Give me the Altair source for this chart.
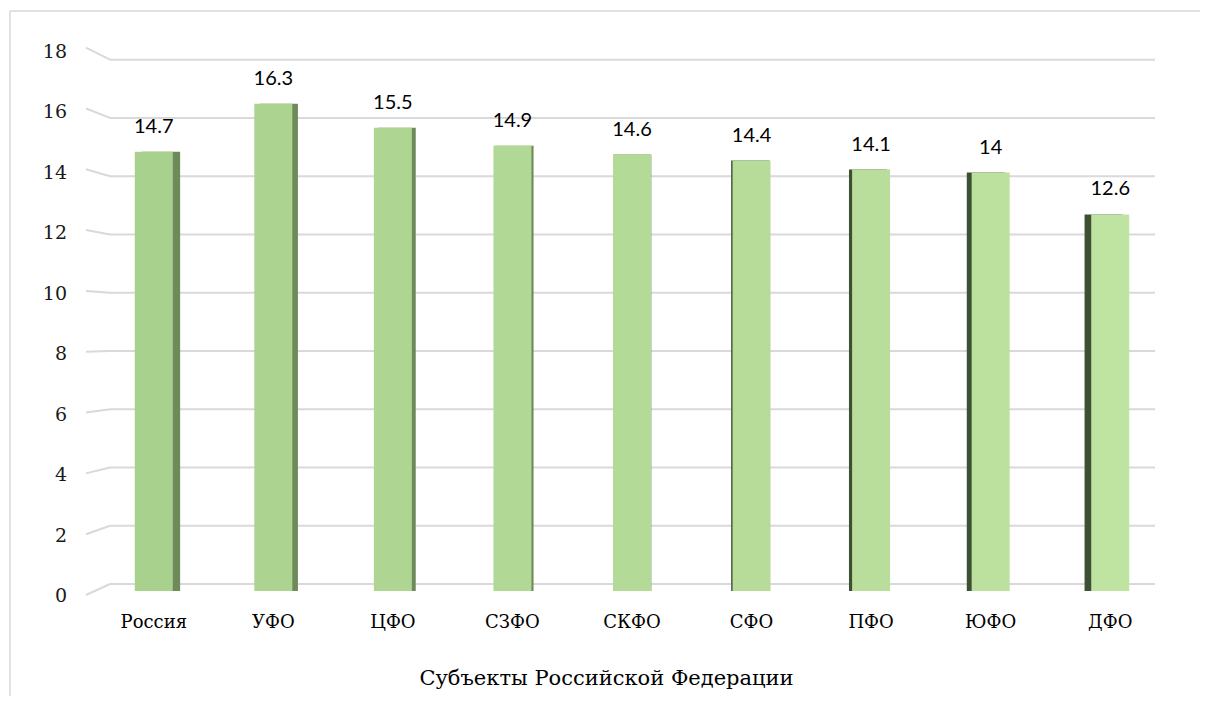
import altair as alt
import pandas as pd

regions = ["Россия", "УФО", "ЦФО", "СЗФО", "СКФО", "СФО", "ПФО", "ЮФО", "ДФО"]
values = [14.7, 16.3, 15.5, 14.9, 14.6, 14.4, 14.1, 14, 12.6]
y_ticks = [0, 2, 4, 6, 8, 10, 12, 14, 16, 18]
x_title = "Субъекты Российской Федерации"

bars_df = pd.DataFrame({"region": regions, "value": values})
ticks_df = pd.DataFrame({"v": y_ticks})
one_df = pd.DataFrame({"k": [0]})

W, H = 1076, 538
GRID = "#d9d9d9"
SERIF = "DejaVu Serif"

yscale = alt.Scale(domain=[0, 18], nice=False, zero=True)
xs = alt.X(
    "region:N",
    sort=regions,
    scale=alt.Scale(paddingInner=0, paddingOuter=0),
    axis=alt.Axis(
        domain=False, ticks=False, grid=False, labelAngle=0,
        labelFont=SERIF, labelFontSize=18, labelColor="#000", labelPadding=22,
        title=x_title, titleFont=SERIF, titleFontSize=21, titleFontWeight="normal",
        titleColor="#000", titlePadding=36, titleX=512,
    ),
)
ys = alt.Y("value:Q", scale=yscale, axis=None)

base = alt.Chart(bars_df).transform_window(idx="row_number()")

side = base.mark_bar(
    size=38, xOffset=alt.ExprRef(expr="(4.2 - (datum.idx - 1)) * 1.75")
).encode(
    x=xs, y=ys,
    color=alt.condition(alt.datum.idx <= 5, alt.value("#6e8a5a"), alt.value("#3e5034")),
)

main = base.mark_bar(size=38).encode(
    x=xs, y=ys,
    color=alt.Color("idx:Q", scale=alt.Scale(range=["#a9d18e", "#bfe3a0"]), legend=None),
)

labels = base.mark_text(
    dy=-25, font="Lato", fontSize=20, color="#000", baseline="middle"
).encode(x=xs, y=ys, text=alt.Text("value:Q"))

grid = alt.Chart(ticks_df).mark_rule(
    color=GRID, strokeWidth=2, yOffset=alt.ExprRef(expr="-7 + 0.76*datum.v")
).encode(x=alt.value(16), x2=alt.value(1061), y=alt.Y("v:Q", scale=yscale, axis=None))

stubs = alt.Chart(ticks_df).mark_rule(
    color=GRID, strokeWidth=2,
    yOffset=alt.ExprRef(expr="4 - 0.52*datum.v"),
    y2Offset=alt.ExprRef(expr="-7 + 0.76*datum.v"),
).encode(
    x=alt.value(-8), x2=alt.value(16),
    y=alt.Y("v:Q", scale=yscale, axis=None), y2="v:Q",
)

ylabels = alt.Chart(ticks_df).mark_text(
    align="right", baseline="middle", font=SERIF, fontSize=19, color="#1a1a1a",
    yOffset=alt.ExprRef(expr="5 - 0.36*datum.v"),
).encode(x=alt.value(-27), y=alt.Y("v:Q", scale=yscale, axis=None), text="v:Q")

frame_top = alt.Chart(one_df).mark_rule(color=GRID, strokeWidth=1.5).encode(
    x=alt.value(-84), x2=alt.value(1120), y=alt.value(-42)
)
frame_left = alt.Chart(one_df).mark_rule(color=GRID, strokeWidth=1.5).encode(
    x=alt.value(-84), y=alt.value(-42), y2=alt.value(700)
)

chart = alt.layer(
    frame_top, frame_left, grid, stubs, ylabels, side, main, labels
).properties(
    width=W, height=H,
    autosize=alt.AutoSizeParams(type="none"),
    padding={"left": 86, "top": 45, "right": 30, "bottom": 105},
    background="white",
).configure_view(strokeWidth=0)

chart.save("out.html", embed_options={"renderer": "svg", "actions": False})
